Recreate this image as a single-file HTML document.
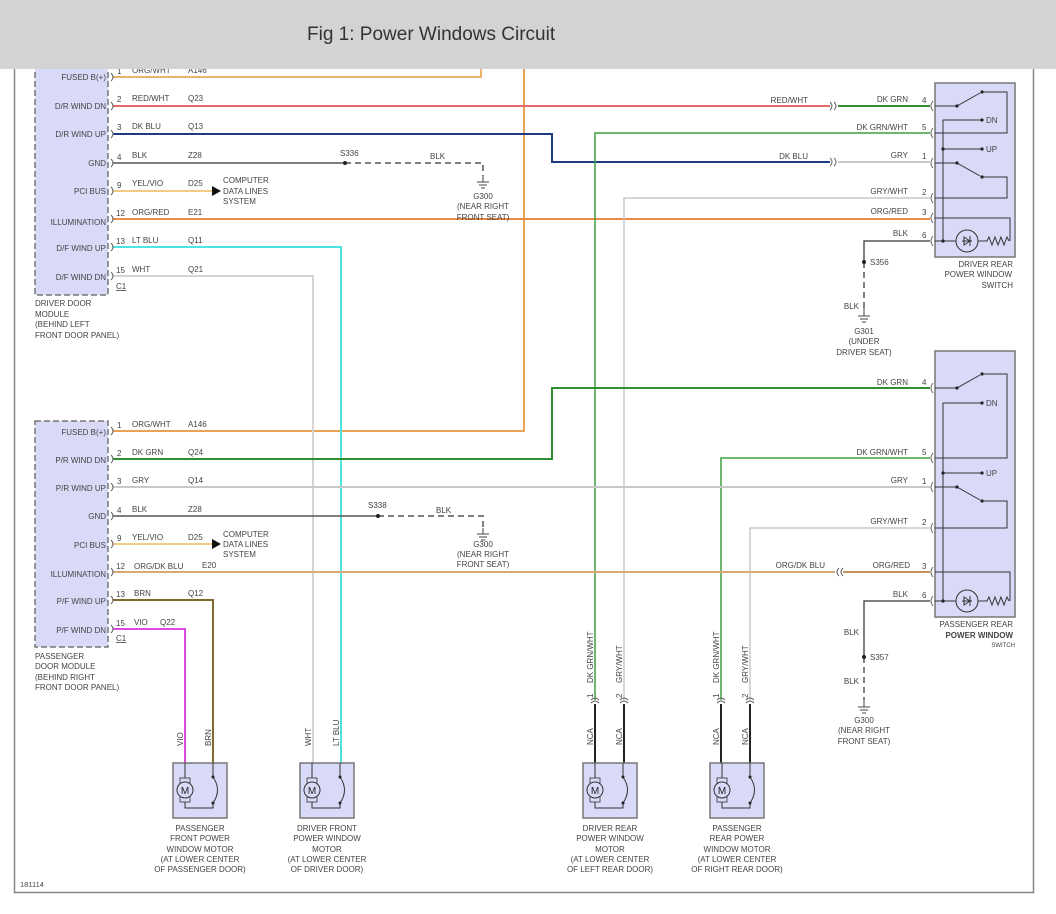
<!DOCTYPE html>
<html><head><meta charset="utf-8"><style>
html,body{margin:0;padding:0;background:#fff;width:1056px;height:914px;overflow:hidden}
svg text{font-family:"Liberation Sans",sans-serif;font-size:8px;fill:#444}
</style></head><body>
<svg width="1056" height="914" viewBox="0 0 1056 914" xmlns="http://www.w3.org/2000/svg">
<rect x="0" y="0" width="1056" height="914" fill="#fff"/>
<!-- frame -->
<path d="M14.5 60 V892.5 H1033.5 V60" fill="none" stroke="#888" stroke-width="1.5"/>
<text x="20" y="887" style="font-size:7.5px">181114</text>

<!-- Driver door module -->
<rect x="35" y="55" width="73" height="240" fill="#d9d9f8" stroke="#777" stroke-dasharray="6,3" stroke-width="1.5"/>
<g text-anchor="end" style="font-size:7.5px">
<text x="106" y="80">FUSED B(+)</text><text x="106" y="109">D/R WIND DN</text><text x="106" y="137">D/R WIND UP</text>
<text x="106" y="166">GND</text><text x="106" y="194">PCI BUS</text><text x="106" y="225">ILLUMINATION</text>
<text x="106" y="251">D/F WIND UP</text><text x="106" y="280">D/F WIND DN</text>
</g>
<text x="35" y="306">DRIVER DOOR</text><text x="35" y="317">MODULE</text><text x="35" y="327">(BEHIND LEFT</text><text x="35" y="338">FRONT DOOR PANEL)</text>
<text x="116" y="289" text-decoration="underline">C1</text>

<!-- Passenger door module -->
<rect x="35" y="421" width="73" height="226" fill="#d9d9f8" stroke="#777" stroke-dasharray="6,3" stroke-width="1.5"/>
<g text-anchor="end" style="font-size:7.5px">
<text x="106" y="435">FUSED B(+)</text><text x="106" y="463">P/R WIND DN</text><text x="106" y="491">P/R WIND UP</text>
<text x="106" y="519">GND</text><text x="106" y="548">PCI BUS</text><text x="106" y="577">ILLUMINATION</text>
<text x="106" y="604">P/F WIND UP</text><text x="106" y="633">P/F WIND DN</text>
</g>
<text x="35" y="659">PASSENGER</text><text x="35" y="669">DOOR MODULE</text><text x="35" y="680">(BEHIND RIGHT</text><text x="35" y="690">FRONT DOOR PANEL)</text>
<text x="116" y="641" text-decoration="underline">C1</text>

<g fill="none" stroke-width="2">
<!-- driver module wires -->
<path d="M113 77 H481 V68" stroke="#eab46a"/>
<path d="M524 68 V431 H113" stroke="#e9a355"/>
<path d="M113 106 H830" stroke="#e26a6a"/>
<path d="M838 106 H930" stroke="#2f8f2f"/>
<path d="M113 134 H552 V162 H830" stroke="#1d3a86"/>
<path d="M838 162 H930" stroke="#c8c8c8"/>
<path d="M113 163 H345" stroke="#555" stroke-width="1.5"/>
<path d="M345 163 H483 V176" stroke="#555" stroke-width="1.5" stroke-dasharray="6,4"/>
<path d="M113 191 H212" stroke="#f2cc80"/>
<path d="M113 219 H930" stroke="#ea8a45"/>
<path d="M113 247 H341 V765" stroke="#4ce3e3"/>
<path d="M113 276 H313 V765" stroke="#d4d4d4"/>
<path d="M595 700 V133 H930" stroke="#3f9f3f" stroke-width="1.5"/>
<path d="M624 700 V198 H930" stroke="#c8c8c8" stroke-width="1.5"/>
<path d="M930 241 H864 V262" stroke="#555" stroke-width="1.5"/>
<path d="M864 262 V308" stroke="#555" stroke-width="1.5" stroke-dasharray="6,4"/>
<!-- passenger module wires -->
<path d="M113 459 H552 V388 H930" stroke="#2f8f2f"/>
<path d="M721 700 V458 H930" stroke="#3f9f3f" stroke-width="1.5"/>
<path d="M113 487 H930" stroke="#c8c8c8"/>
<path d="M750 700 V528 H930" stroke="#c8c8c8" stroke-width="1.5"/>
<path d="M113 516 H378" stroke="#555" stroke-width="1.5"/>
<path d="M378 516 H483 V528" stroke="#555" stroke-width="1.5" stroke-dasharray="6,4"/>
<path d="M113 544 H212" stroke="#f2cc80"/>
<path d="M113 572 H835" stroke="#dba878"/>
<path d="M843 572 H930" stroke="#c8915e"/>
<path d="M113 600 H213 V765" stroke="#7c6a2e"/>
<path d="M113 629 H185 V765" stroke="#e04ae0"/>
<path d="M930 601 H864 V657" stroke="#555" stroke-width="1.5"/>
<path d="M864 657 V700" stroke="#555" stroke-width="1.5" stroke-dasharray="6,4"/>
<!-- rear motor black leads -->
<path d="M595 704 V765 M624 704 V765 M721 704 V765 M750 704 V765" stroke="#222"/>
</g>

<!-- connectors at module -->
<g fill="none" stroke="#666" stroke-width="1">
<path d="M111 73 q4 4 0 8 M111 102 q4 4 0 8 M111 130 q4 4 0 8 M111 159 q4 4 0 8 M111 187 q4 4 0 8 M111 215 q4 4 0 8 M111 243 q4 4 0 8 M111 272 q4 4 0 8"/>
<path d="M111 427 q4 4 0 8 M111 455 q4 4 0 8 M111 483 q4 4 0 8 M111 512 q4 4 0 8 M111 540 q4 4 0 8 M111 568 q4 4 0 8 M111 596 q4 4 0 8 M111 625 q4 4 0 8"/>
<!-- inline connectors -->
<path d="M830 102 q4 4 0 8 M834 102 q4 4 0 8 M830 158 q4 4 0 8 M834 158 q4 4 0 8"/>
<path d="M839 568 q-4 4 0 8 M843 568 q-4 4 0 8"/>
<!-- switch pins -->
<path d="M933 101 q-4 5 0 10 M933 128 q-4 5 0 10 M933 158 q-4 5 0 10 M933 193 q-4 5 0 10 M933 213 q-4 5 0 10 M933 236 q-4 5 0 10"/>
<path d="M933 383 q-4 5 0 10 M933 453 q-4 5 0 10 M933 482 q-4 5 0 10 M933 523 q-4 5 0 10 M933 567 q-4 5 0 10 M933 596 q-4 5 0 10"/>
<!-- motor connectors -->
<path d="M591 703 q4 -4 8 0 M591 700 q4 -4 8 0 M620 703 q4 -4 8 0 M620 700 q4 -4 8 0 M717 703 q4 -4 8 0 M717 700 q4 -4 8 0 M746 703 q4 -4 8 0 M746 700 q4 -4 8 0"/>
</g>

<!-- arrows -->
<path d="M212 186 L221 191 L212 196 Z" fill="#111"/>
<path d="M212 539 L221 544 L212 549 Z" fill="#111"/>
<!-- splices -->
<g fill="#222"><circle cx="345" cy="163" r="2"/><circle cx="378" cy="516" r="2"/><circle cx="864" cy="262" r="2"/><circle cx="864" cy="657" r="2"/></g>
<!-- grounds -->
<g stroke="#444" stroke-width="1" fill="none">
<path d="M483 176 V182 M477 182 H489 M479 185 H487 M481 188 H485"/>
<path d="M483 528 V534 M477 534 H489 M479 537 H487 M481 540 H485"/>
<path d="M864 308 V316 M858 316 H870 M860 319 H868 M862 322 H866"/>
<path d="M864 700 V707 M858 707 H870 M860 710 H868 M862 713 H866"/>
</g>

<!-- wire labels driver module -->
<g style="font-size:7.5px">
<text x="117" y="74">1</text><text x="132" y="73">ORG/WHT</text><text x="188" y="73">A146</text>
<text x="117" y="102">2</text><text x="132" y="101">RED/WHT</text><text x="188" y="101">Q23</text>
<text x="117" y="130">3</text><text x="132" y="129">DK BLU</text><text x="188" y="129">Q13</text>
<text x="117" y="160">4</text><text x="132" y="158">BLK</text><text x="188" y="158">Z28</text>
<text x="117" y="188">9</text><text x="132" y="186">YEL/VIO</text><text x="188" y="186">D25</text>
<text x="116" y="216">12</text><text x="132" y="215">ORG/RED</text><text x="188" y="215">E21</text>
<text x="116" y="244">13</text><text x="132" y="243">LT BLU</text><text x="188" y="243">Q11</text>
<text x="116" y="273">15</text><text x="132" y="272">WHT</text><text x="188" y="272">Q21</text>
<text x="223" y="183">COMPUTER</text><text x="223" y="194">DATA LINES</text><text x="223" y="204">SYSTEM</text>
<text x="340" y="156" text-anchor="start">S336</text><text x="430" y="159">BLK</text>
<text x="483" y="199" text-anchor="middle">G300</text><text x="483" y="209" text-anchor="middle">(NEAR RIGHT</text><text x="483" y="220" text-anchor="middle">FRONT SEAT)</text>
<!-- passenger module -->
<text x="117" y="428">1</text><text x="132" y="427">ORG/WHT</text><text x="188" y="427">A146</text>
<text x="117" y="456">2</text><text x="132" y="455">DK GRN</text><text x="188" y="455">Q24</text>
<text x="117" y="484">3</text><text x="132" y="483">GRY</text><text x="188" y="483">Q14</text>
<text x="117" y="513">4</text><text x="132" y="512">BLK</text><text x="188" y="512">Z28</text>
<text x="117" y="541">9</text><text x="132" y="540">YEL/VIO</text><text x="188" y="540">D25</text>
<text x="116" y="569">12</text><text x="134" y="569">ORG/DK BLU</text><text x="202" y="568">E20</text>
<text x="116" y="597">13</text><text x="134" y="596">BRN</text><text x="188" y="596">Q12</text>
<text x="116" y="626">15</text><text x="134" y="625">VIO</text><text x="160" y="625">Q22</text>
<text x="223" y="537">COMPUTER</text><text x="223" y="547">DATA LINES</text><text x="223" y="557">SYSTEM</text>
<text x="368" y="508">S338</text><text x="436" y="513">BLK</text>
<text x="483" y="547" text-anchor="middle">G300</text><text x="483" y="557" text-anchor="middle">(NEAR RIGHT</text><text x="483" y="567" text-anchor="middle">FRONT SEAT)</text>
<!-- right side labels -->
<g text-anchor="end">
<text x="808" y="103">RED/WHT</text><text x="908" y="102">DK GRN</text>
<text x="908" y="130">DK GRN/WHT</text>
<text x="808" y="159">DK BLU</text><text x="908" y="158">GRY</text>
<text x="908" y="194">GRY/WHT</text><text x="908" y="214">ORG/RED</text><text x="908" y="236">BLK</text>
<text x="908" y="385">DK GRN</text><text x="908" y="455">DK GRN/WHT</text><text x="908" y="483">GRY</text>
<text x="908" y="524">GRY/WHT</text><text x="825" y="568">ORG/DK BLU</text><text x="910" y="568">ORG/RED</text><text x="908" y="597">BLK</text>
<text x="859" y="309">BLK</text><text x="859" y="635">BLK</text><text x="859" y="684">BLK</text>
</g>
<text x="922" y="103">4</text><text x="922" y="130">5</text><text x="922" y="159">1</text><text x="922" y="195">2</text><text x="922" y="215">3</text><text x="922" y="238">6</text>
<text x="922" y="385">4</text><text x="922" y="455">5</text><text x="922" y="484">1</text><text x="922" y="525">2</text><text x="922" y="569">3</text><text x="922" y="598">6</text>
<text x="870" y="265">S356</text><text x="870" y="660">S357</text>
<g text-anchor="middle">
<text x="864" y="334">G301</text><text x="864" y="344">(UNDER</text><text x="864" y="355">DRIVER SEAT)</text>
<text x="864" y="723">G300</text><text x="864" y="733">(NEAR RIGHT</text><text x="864" y="744">FRONT SEAT)</text>
</g>
<g text-anchor="end">
<text x="1013" y="267">DRIVER REAR</text><text x="1012" y="277">POWER WINDOW</text><text x="1013" y="288">SWITCH</text>
<text x="1013" y="627">PASSENGER REAR</text><text x="1013" y="638" style="font-weight:bold">POWER WINDOW</text><text x="1015" y="647" style="font-size:6px">SWITCH</text>
</g>
</g>

<!-- Switches -->
<g id="sw">
<rect x="935" y="83" width="80" height="174" fill="#d9d9f8" stroke="#777" stroke-width="1.5"/>
<g fill="none" stroke="#333" stroke-width="1">
<path d="M935 106 H957 L980 93 M982 92 H1007 V133 H935"/>
<path d="M943 241 V120 H982 M943 149 H982"/>
<path d="M935 163 H957 L980 176 M982 177 H1007 V198 H935"/>
<path d="M935 218 H1010 V241"/>
<path d="M935 241 H956 M978 241 H987 l2 -4 l3 8 l3 -8 l3 8 l3 -8 l3 8 l3 -8 l2 4"/>
<circle cx="967" cy="241" r="11"/>
<path d="M962 241 H972 M970 236 V246 M970 241 L964 237 V245 Z"/>
</g>
<g fill="#222"><circle cx="957" cy="106" r="1.6"/><circle cx="982" cy="92" r="1.6"/><circle cx="982" cy="120" r="1.6"/><circle cx="982" cy="149" r="1.6"/><circle cx="943" cy="149" r="1.6"/><circle cx="957" cy="163" r="1.6"/><circle cx="982" cy="177" r="1.6"/><circle cx="943" cy="241" r="1.6"/></g>
<text x="986" y="123">DN</text><text x="986" y="152">UP</text>
</g>
<g>
<rect x="935" y="351" width="80" height="266" fill="#d9d9f8" stroke="#777" stroke-width="1.5"/>
<g fill="none" stroke="#333" stroke-width="1">
<path d="M935 388 H957 L980 375 M982 374 H1007 V458 H935"/>
<path d="M943 601 V403 H982 M943 473 H982"/>
<path d="M935 487 H957 L980 500 M982 501 H1007 V528 H935"/>
<path d="M935 572 H1010 V601"/>
<path d="M935 601 H956 M978 601 H987 l2 -4 l3 8 l3 -8 l3 8 l3 -8 l3 8 l3 -8 l2 4"/>
<circle cx="967" cy="601" r="11"/>
<path d="M962 601 H972 M970 596 V606 M970 601 L964 597 V605 Z"/>
</g>
<g fill="#222"><circle cx="957" cy="388" r="1.6"/><circle cx="982" cy="374" r="1.6"/><circle cx="982" cy="403" r="1.6"/><circle cx="982" cy="473" r="1.6"/><circle cx="943" cy="473" r="1.6"/><circle cx="957" cy="487" r="1.6"/><circle cx="982" cy="501" r="1.6"/><circle cx="943" cy="601" r="1.6"/></g>
<text x="986" y="406">DN</text><text x="986" y="476">UP</text>
</g>

<!-- Motors -->
<g style="font-size:7.5px">
<g transform="translate(173,0)">
<rect x="0" y="763" width="54" height="55" fill="#d9d9f8" stroke="#777" stroke-width="1.5"/>
<path d="M12 763 V808 H40 V803 M40 763 V777 M40 777 q9 13 0 26" fill="none" stroke="#333"/>
<rect x="7" y="778" width="10" height="24" fill="#d9d9f8" stroke="#333" stroke-width="0.8"/>
<circle cx="12" cy="790" r="8" fill="#d9d9f8" stroke="#333"/><text x="12" y="794" text-anchor="middle" style="font-size:10px;fill:#222">M</text>
<circle cx="40" cy="777" r="1.5" fill="#222"/><circle cx="40" cy="803" r="1.5" fill="#222"/>
</g>
<g transform="translate(300,0)">
<rect x="0" y="763" width="54" height="55" fill="#d9d9f8" stroke="#777" stroke-width="1.5"/>
<path d="M12 763 V808 H40 V803 M40 763 V777 M40 777 q9 13 0 26" fill="none" stroke="#333"/>
<rect x="7" y="778" width="10" height="24" fill="#d9d9f8" stroke="#333" stroke-width="0.8"/>
<circle cx="12" cy="790" r="8" fill="#d9d9f8" stroke="#333"/><text x="12" y="794" text-anchor="middle" style="font-size:10px;fill:#222">M</text>
<circle cx="40" cy="777" r="1.5" fill="#222"/><circle cx="40" cy="803" r="1.5" fill="#222"/>
</g>
<g transform="translate(583,0)">
<rect x="0" y="763" width="54" height="55" fill="#d9d9f8" stroke="#777" stroke-width="1.5"/>
<path d="M12 763 V808 H40 V803 M40 763 V777 M40 777 q9 13 0 26" fill="none" stroke="#333"/>
<rect x="7" y="778" width="10" height="24" fill="#d9d9f8" stroke="#333" stroke-width="0.8"/>
<circle cx="12" cy="790" r="8" fill="#d9d9f8" stroke="#333"/><text x="12" y="794" text-anchor="middle" style="font-size:10px;fill:#222">M</text>
<circle cx="40" cy="777" r="1.5" fill="#222"/><circle cx="40" cy="803" r="1.5" fill="#222"/>
</g>
<g transform="translate(710,0)">
<rect x="0" y="763" width="54" height="55" fill="#d9d9f8" stroke="#777" stroke-width="1.5"/>
<path d="M12 763 V808 H40 V803 M40 763 V777 M40 777 q9 13 0 26" fill="none" stroke="#333"/>
<rect x="7" y="778" width="10" height="24" fill="#d9d9f8" stroke="#333" stroke-width="0.8"/>
<circle cx="12" cy="790" r="8" fill="#d9d9f8" stroke="#333"/><text x="12" y="794" text-anchor="middle" style="font-size:10px;fill:#222">M</text>
<circle cx="40" cy="777" r="1.5" fill="#222"/><circle cx="40" cy="803" r="1.5" fill="#222"/>
</g>
<!-- vertical labels -->
<text transform="translate(183,746) rotate(-90)">VIO</text>
<text transform="translate(211,746) rotate(-90)">BRN</text>
<text transform="translate(311,746) rotate(-90)">WHT</text>
<text transform="translate(339,746) rotate(-90)">LT BLU</text>
<text transform="translate(593,683) rotate(-90)">DK GRN/WHT</text>
<text transform="translate(622,683) rotate(-90)">GRY/WHT</text>
<text transform="translate(719,683) rotate(-90)">DK GRN/WHT</text>
<text transform="translate(748,683) rotate(-90)">GRY/WHT</text>
<text transform="translate(593,698) rotate(-90)">1</text><text transform="translate(622,698) rotate(-90)">2</text>
<text transform="translate(719,698) rotate(-90)">1</text><text transform="translate(748,698) rotate(-90)">2</text>
<text transform="translate(593,745) rotate(-90)">NCA</text><text transform="translate(622,745) rotate(-90)">NCA</text>
<text transform="translate(719,745) rotate(-90)">NCA</text><text transform="translate(748,745) rotate(-90)">NCA</text>
<g text-anchor="middle">
<text x="200" y="831">PASSENGER</text><text x="200" y="841">FRONT POWER</text><text x="200" y="852">WINDOW MOTOR</text><text x="200" y="862">(AT LOWER CENTER</text><text x="200" y="872">OF PASSENGER DOOR)</text>
<text x="327" y="831">DRIVER FRONT</text><text x="327" y="841">POWER WINDOW</text><text x="327" y="852">MOTOR</text><text x="327" y="862">(AT LOWER CENTER</text><text x="327" y="872">OF DRIVER DOOR)</text>
<text x="610" y="831">DRIVER REAR</text><text x="610" y="841">POWER WINDOW</text><text x="610" y="852">MOTOR</text><text x="610" y="862">(AT LOWER CENTER</text><text x="610" y="872">OF LEFT REAR DOOR)</text>
<text x="737" y="831">PASSENGER</text><text x="737" y="841">REAR POWER</text><text x="737" y="852">WINDOW MOTOR</text><text x="737" y="862">(AT LOWER CENTER</text><text x="737" y="872">OF RIGHT REAR DOOR)</text>
</g>
</g>

<!-- header -->
<rect x="0" y="0" width="1056" height="69" fill="#d3d3d3"/>
<text x="307" y="40" style="font-size:19px;fill:#333">Fig 1: Power Windows Circuit</text>
</svg>
</body></html>
